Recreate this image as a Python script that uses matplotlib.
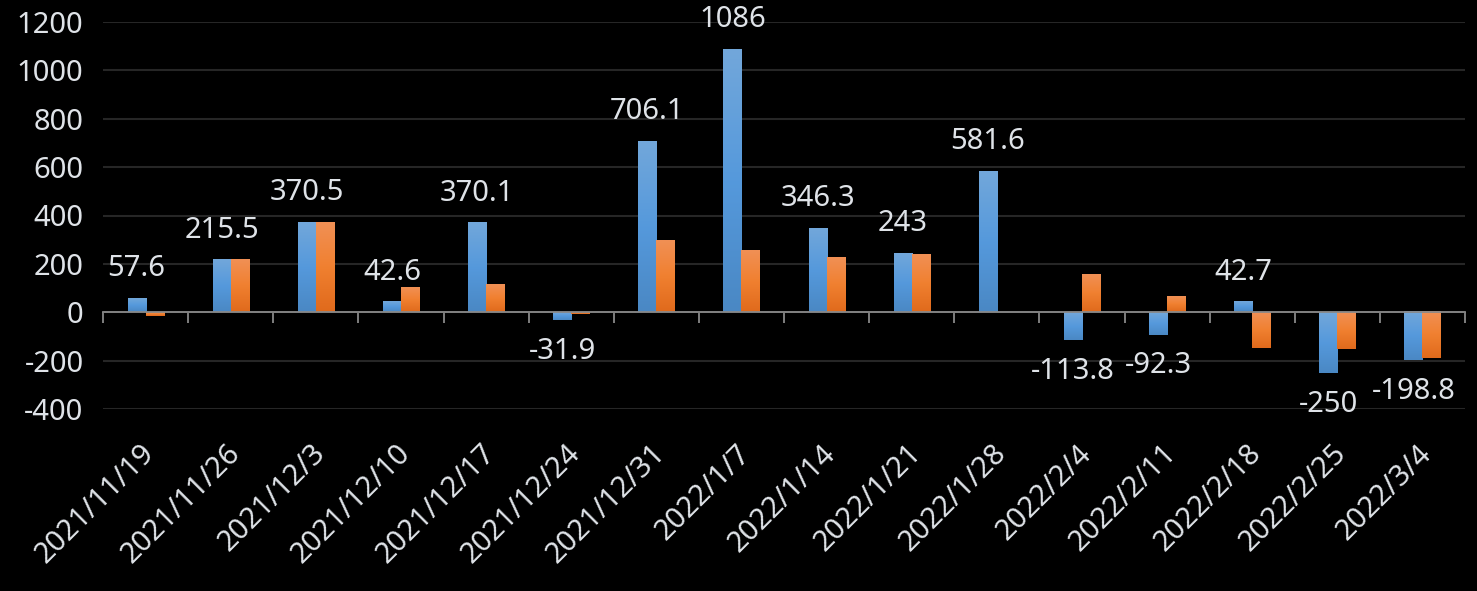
#!/usr/bin/env python3
"""
Weekly net buy/sell bars (two series) with value labels on the first series
"""
import numpy as np
import matplotlib
matplotlib.use("Agg")
import matplotlib.pyplot as plt
from matplotlib.colors import LinearSegmentedColormap
from matplotlib.transforms import ScaledTranslation

dates = ["2021/11/19", "2021/11/26", "2021/12/3", "2021/12/10", "2021/12/17",
         "2021/12/24", "2021/12/31", "2022/1/7", "2022/1/14", "2022/1/21",
         "2022/1/28", "2022/2/4", "2022/2/11", "2022/2/18", "2022/2/25",
         "2022/3/4"]
blue_vals = [57.6, 215.5, 370.5, 42.6, 370.1, -31.9, 706.1, 1086, 346.3, 243,
             581.6, -113.8, -92.3, 42.7, -250, -198.8]
orange_vals = [-15, 215.5, 370.5, 102, 114, -8, 296, 255, 226, 238,
               0, 155, 65, -146, -150, -191]
y_ticks = [-400, -200, 0, 200, 400, 600, 800, 1000, 1200]

TEXT_COL = "#dfe3e8"
FONT = "Noto Sans"
FSIZE = 21
BAR_W = 0.212

blue_cmap = LinearSegmentedColormap.from_list("b", ["#4a88c4", "#5599dc", "#72a7da"])
orange_cmap = LinearSegmentedColormap.from_list("o", ["#e06a1c", "#f08030", "#f19055"])


def grad_bars(ax, bars, cmap):
    """paint each bar with a vertical gradient (light on top)"""
    grad = np.linspace(0, 1, 128).reshape(-1, 1)
    for p in bars:
        x0, y0 = p.get_x(), p.get_y()
        w, h = p.get_width(), p.get_height()
        if h == 0:
            continue
        lo, hi = min(y0, y0 + h), max(y0, y0 + h)
        ax.imshow(grad, cmap=cmap, origin="lower", aspect="auto",
                  extent=[x0, x0 + w, lo, hi], zorder=3, interpolation="bilinear")
        p.set_visible(False)


def main():
    plt.rcParams["font.family"] = [FONT, "DejaVu Sans"]
    plt.rcParams["axes.unicode_minus"] = False
    fig = plt.figure(figsize=(14.77, 5.91), dpi=100, facecolor="black")
    ax = fig.add_axes([103 / 1477, 1 - 409 / 591, (1465 - 103) / 1477, (409 - 22) / 591])
    ax.set_facecolor("black")

    x = np.arange(len(dates))
    b1 = ax.bar(x - BAR_W / 2, blue_vals, BAR_W, color="#5599dc", zorder=3)
    b2 = ax.bar(x + BAR_W / 2, orange_vals, BAR_W, color="#f08030", zorder=3)
    grad_bars(ax, b1, blue_cmap)
    grad_bars(ax, b2, orange_cmap)

    ax.set_xlim(-0.5, len(dates) - 0.5)
    ax.set_ylim(-400, 1200)
    ax.set_yticks(y_ticks)
    ax.yaxis.grid(True, color="#262626", linewidth=1.5, zorder=0)
    ax.set_axisbelow(True)
    ax.tick_params(axis="y", length=0, pad=14, labelsize=FSIZE, labelcolor=TEXT_COL)

    for s in ["top", "left", "right"]:
        ax.spines[s].set_visible(False)
    ax.spines["bottom"].set_position(("data", 0))
    ax.spines["bottom"].set_color("#898989")
    ax.spines["bottom"].set_linewidth(1.3)
    ax.spines["bottom"].set_zorder(4)
    ax.set_xticks(np.arange(len(dates) + 1) - 0.5)
    ax.set_xticklabels([])
    ax.tick_params(axis="x", direction="out", length=7.7, width=1.3, color="#898989")

    # category labels along the bottom of the plot area
    sec = ax.secondary_xaxis("bottom")
    sec.set_xticks(x)
    sec.set_xticklabels(dates, rotation=45, ha="right", va="center",
                        rotation_mode="anchor", fontsize=FSIZE, color=TEXT_COL)
    sec.tick_params(length=0, pad=29)
    sec.spines["bottom"].set_visible(False)
    shift = ScaledTranslation(5 / 100, 0, fig.dpi_scale_trans)
    for lab in sec.get_xticklabels():
        lab.set_transform(lab.get_transform() + shift)

    # value labels on the first series
    for xi, v in zip(x, blue_vals):
        off = 16 if v >= 0 else -28
        ax.annotate("{:g}".format(v), (xi - BAR_W / 2, v), xytext=(0, off),
                    textcoords="offset points", ha="center", va="baseline",
                    fontsize=FSIZE, color=TEXT_COL, zorder=5)

    plt.savefig("out.png", dpi=100, facecolor="black")


if __name__ == "__main__":
    main()
